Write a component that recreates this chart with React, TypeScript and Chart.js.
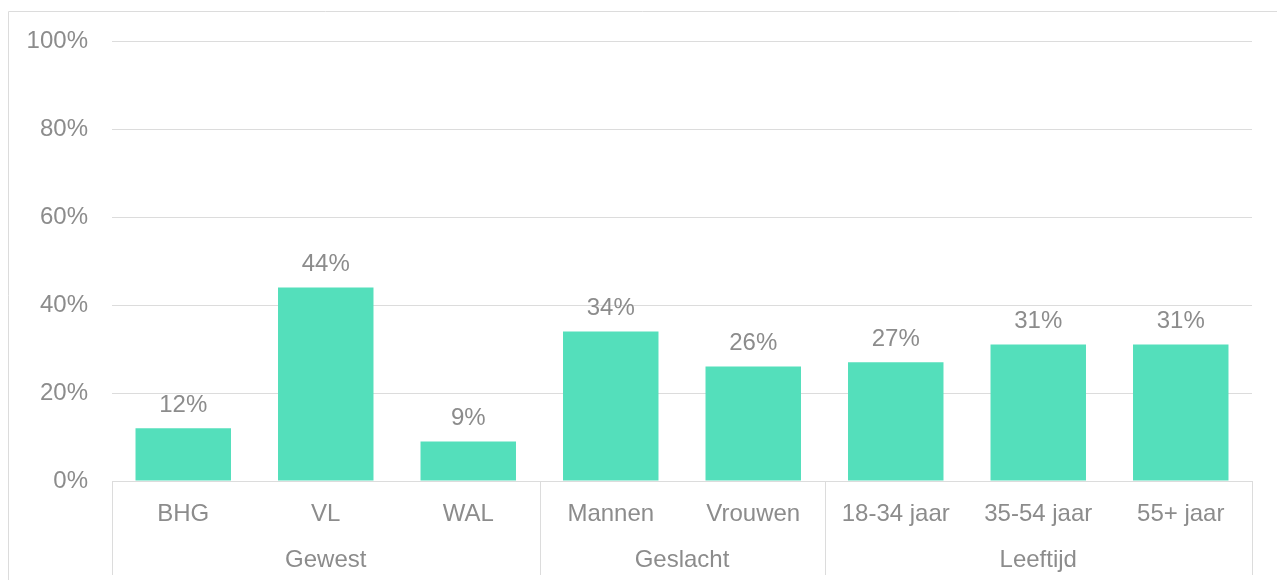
import React, { useEffect, useRef } from "react";
import { Chart, registerables } from "chart.js";

Chart.register(...registerables);

const categories = ["BHG", "VL", "WAL", "Mannen", "Vrouwen", "18-34 jaar", "35-54 jaar", "55+ jaar"];
const values = [12, 44, 9, 34, 26, 27, 31, 31];
const groupNames = ["Gewest", "Geslacht", "Leeftijd"];
const groupSizes = [3, 2, 3];
const yMax = 100;
const yStep = 20;

const FONT = "'Liberation Sans', Arial, sans-serif";
const FONT_SIZE = 24;
const TEXT = "#8c8c8c";
const LINE = "#dcdcdc";
const BAR = "#54dfbb";

const decor = {
  id: "decor",
  beforeDraw(chart: any) {
    const ctx = chart.ctx;
    ctx.save();
    ctx.strokeStyle = LINE;
    ctx.lineWidth = 1;
    ctx.beginPath();
    ctx.moveTo(8.5, chart.height);
    ctx.lineTo(8.5, 11.5);
    ctx.lineTo(chart.width, 11.5);
    ctx.stroke();
    ctx.restore();
  },
  afterDraw(chart: any) {
    const ctx = chart.ctx;
    const xs = chart.scales.x;
    const area = chart.chartArea;
    ctx.save();
    ctx.strokeStyle = LINE;
    ctx.lineWidth = 1;
    let start = 0;
    const bounds = [0];
    groupSizes.forEach((s) => {
      start += s;
      bounds.push(start);
    });
    bounds.forEach((b) => {
      const px = Math.round(xs.getPixelForValue(b - 0.5)) + 0.5;
      ctx.beginPath();
      ctx.moveTo(px, area.bottom);
      ctx.lineTo(px, 575);
      ctx.stroke();
    });
    ctx.fillStyle = TEXT;
    ctx.font = `${FONT_SIZE}px ${FONT}`;
    ctx.textAlign = "center";
    ctx.textBaseline = "middle";
    let s0 = 0;
    groupSizes.forEach((s, gi) => {
      const mid = xs.getPixelForValue(s0 + (s - 1) / 2);
      ctx.fillText(groupNames[gi], mid, 560);
      s0 += s;
    });
    const meta = chart.getDatasetMeta(0);
    meta.data.forEach((bar: any, i: number) => {
      ctx.fillText(values[i] + "%", bar.x, bar.y - 23);
    });
    ctx.restore();
  },
};

export default function App() {
  const ref = useRef<HTMLCanvasElement>(null);
  useEffect(() => {
    if (!ref.current) return;
    const chart = new Chart(ref.current, {
      type: "bar",
      data: {
        labels: categories,
        datasets: [
          {
            data: values,
            backgroundColor: BAR,
            borderWidth: 0,
            barPercentage: 0.67,
            categoryPercentage: 1,
          },
        ],
      },
      options: {
        animation: false,
        responsive: false,
        devicePixelRatio: 1,
        layout: { padding: { top: 41, right: 25, left: 0, bottom: 0 } },
        plugins: { legend: { display: false }, tooltip: { enabled: false } },
        scales: {
          x: {
            grid: { display: false, drawTicks: false },
            border: { display: false },
            ticks: {
              color: TEXT,
              font: { family: FONT, size: FONT_SIZE },
              padding: 19,
              autoSkip: false,
              maxRotation: 0,
            },
            afterFit(scale: any) {
              scale.height = 99;
            },
          },
          y: {
            min: 0,
            max: yMax,
            grid: { color: LINE, drawTicks: false, lineWidth: 1 },
            border: { display: false },
            ticks: {
              stepSize: yStep,
              color: TEXT,
              font: { family: FONT, size: FONT_SIZE },
              padding: 24,
              callback: (v: any) => v + "%",
            },
            afterFit(scale: any) {
              scale.width = 112;
            },
          },
        },
      },
      plugins: [decor],
    });
    return () => chart.destroy();
  }, []);
  return (
    <div style={{ position: "fixed", left: 0, top: 0, width: 1277, height: 580, overflow: "hidden", background: "#fff" }}>
      <canvas ref={ref} width={1277} height={580} style={{ display: "block" }} />
    </div>
  );
}
